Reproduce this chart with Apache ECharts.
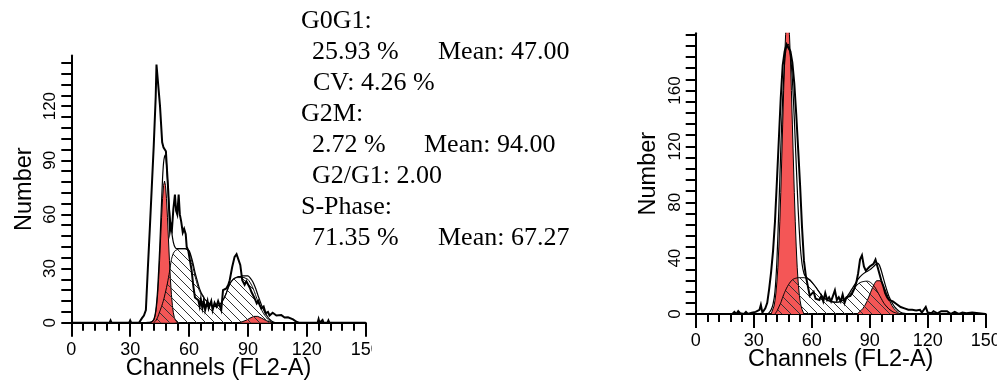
<!DOCTYPE html>
<html>
<head>
<meta charset="utf-8">
<script src="https://cdn.jsdelivr.net/npm/echarts@6/dist/echarts.min.js"></script>
<style>
  html, body { margin: 0; padding: 0; background: #fff; }
  #full { position: absolute; left: 0; top: 0; width: 997px; height: 382px; }
  #left { position: absolute; left: 0; top: 0; width: 372px; height: 382px; }
</style>
</head>
<body>
<div id="full"></div>
<div id="left"></div>
<script>
// ---------- axis ticks and labels ----------
const xLabels = [0, 30, 60, 90, 120, 150];
const leftYLabels = [0, 30, 60, 90, 120];
const leftYTicks = [0, 6, 12, 18, 24, 30, 36, 42, 48, 54, 60, 66, 72, 78, 84, 90, 96, 102, 108, 114, 120, 126, 132, 138, 144];
const rightYLabels = [0, 40, 80, 120, 160];
const rightYTicks = [0, 8, 16, 24, 32, 40, 48, 56, 64, 72, 80, 88, 96, 104, 112, 120, 128, 136, 144, 152, 160, 168, 176, 184, 192, 200];

// ---------- left sample: measured histogram [channel, count] ----------
const leftRaw = [[0,0],[19.5,0],[20,1.2],[20.5,0],[29.5,0],[30,1.2],[30.5,0],[34.5,0],[35,1],[36,2.5],[37,4],[38,7],[39,30],[40,52],[41,75],[42,98],[43,125],[43.4,143],[44.2,142],[45.2,120],[46.3,100],[47,97],[48.2,95],[49.4,73],[50.3,51],[50.8,54],[51.3,52],[52,63],[52.8,71],[53.4,62],[54,60],[54.7,71],[55.3,60],[56,56],[56.8,50],[57.5,52],[58.3,49],[58.8,42],[59.6,40],[60.3,40],[61.3,29],[62.2,20],[63,14],[64,13],[64.7,12.5],[65.4,9],[66,13],[66.8,8],[67.5,12],[68.2,7],[69.4,12],[70,8],[70.7,8],[71.3,12],[72,7],[73,11],[73.9,9],[74.8,12],[75.6,11.6],[76.4,7],[77.3,18],[78.2,17],[79,19],[80,21],[80.7,23.5],[82,31],[83.2,36.5],[84.2,38],[84.9,37],[86.1,32],[87.1,23.5],[88.3,21],[89.2,23],[89.9,23.5],[91.1,19],[91.8,17],[92.4,16],[93.2,14],[93.8,15],[94.5,10.7],[95.3,12],[95.9,10],[96.8,7.9],[98,9],[99,5.2],[100.2,6],[101,4],[101.9,4.2],[102.6,5.5],[103.6,6],[104.5,4],[105.3,4.5],[107,4.2],[108.7,2.9],[110.4,3],[113,1.8],[114.7,0.5],[116,0],[125.5,0],[126,2],[126.5,0],[127.5,0],[128,1.5],[128.5,0],[130.5,0],[131,1.2],[131.5,0],[137,0],[137.5,1],[138,0],[145,0],[145.5,1],[146,0],[148.5,0],[149,1],[149.5,0],[150,0]];

// left sample: model fit (sum of phases)
const leftFit = [[38,0],[40,0.3],[41,0.5],[42,1.6],[43,6.5],[44,18.7],[45,40.5],[46,67.4],[46.5,80],[47,88.5],[47.5,92],[48,93],[48.5,88],[49,79.5],[49.5,70],[50,62.5],[51,51.7],[52,44.5],[53,41.5],[54,41],[56,41],[58,41],[60,40],[61,37],[62,33],[63,28],[64,24],[65,20],[66,17],[67,15],[68,13],[69,12],[70,11],[71,10],[72,9.5],[73,9],[74,9],[75,9.5],[76,10.5],[77,12],[78,14],[79,16.5],[80,19.5],[81,22],[82,23.5],[83,24.5],[84,25],[85,25.5],[86,25.5],[87,26],[88,26],[89,26],[90,26],[91,25],[92,23.5],[93,21.5],[94,18.8],[95,15.5],[96,12.5],[97,9.5],[98,7],[99,5],[100,3.3],[101,1.9],[102,1],[103,0.4],[104,0]];

// left sample: G0G1 peak
const leftG1 = [[40.5,0],[41,0.3],[41.5,0.7],[42,1.5],[42.5,2.9],[43,5.5],[43.5,9.6],[44,15.7],[44.5,24],[45,34.5],[45.5,46.4],[46,58.4],[46.5,68.8],[47,76],[47.5,78.5],[48,76],[48.5,68.8],[49,58.4],[49.5,46.4],[50,34.5],[50.5,24],[51,15.7],[51.5,9.6],[52,5.5],[52.5,2.9],[53,1.5],[53.5,0.7],[54,0.3],[54.5,0]];

// left sample: S-phase
const leftS = [[42,0],[43,1],[44,3],[45,6],[46,9],[47,12.5],[48,17],[49,22],[50,28],[51,35],[52,38.5],[53,40],[54,40.5],[55,41],[56,41],[57,41],[58,41],[59,40.5],[60,39.5],[61,36],[62,31],[63,26],[64,22],[65,18.5],[66,16],[67,14.5],[68,13],[69,12],[70,11],[71,10],[72,9.5],[73,9],[74,9],[75,9.5],[76,10.5],[77,12],[78,14],[79,16.5],[80,19.5],[81,22],[82,23.5],[83,24.5],[84,25],[85,25],[86,25],[87,25],[88,25],[89,24.5],[90,24],[91,22.5],[92,20.5],[93,18],[94,15],[95,12],[96,9.5],[97,7],[98,5],[99,3.5],[100,2],[101,1],[102,0.3],[103,0]];

// left sample: G2M peak
const leftG2 = [[85,0],[86,0.2],[87,0.5],[88,0.8],[89,1.3],[90,1.9],[91,2.5],[92,3.1],[93,3.5],[94,3.6],[95,3.5],[96,3.1],[97,2.5],[98,1.9],[99,1.3],[100,0.8],[101,0.5],[102,0.2],[103,0]];

// ---------- right sample ----------
const rightRaw = [[0,0],[19,0],[20,1.5],[21,0],[22,2],[23,0.5],[24,1],[25,0],[26,1.5],[27,0],[28,0.5],[29,1],[30,0],[31,1.5],[32,0.5],[33,3],[33.7,6.5],[34.5,1],[35,2],[36,4],[37,8],[38,18],[39,30],[40,45],[41,66],[42,95],[43,125],[44,155],[45,178],[46,188],[47,193],[48,192],[49,188],[50,180],[51,165],[52,143],[53,118],[54,92],[55,62],[56,38],[57,27],[58,20],[59,13],[60,14],[61,16],[62,11],[63,12],[64,10],[65,13],[66,9],[67,15],[68,10],[69,12],[70,9],[71,13],[72,17],[73,10],[74,12],[75,9],[76,14],[77,8],[78,12],[79,11],[80,13],[81,15],[82,18],[83,22],[84,29],[85,39],[86,42],[87,34],[88,31],[89,32],[90,34],[91,33],[92,36],[93,39],[94,34],[95,29],[96,24],[97,20],[98,15],[99,12],[100,10],[101,9],[102,9],[103,8],[104,7],[105,6],[106,5],[107,4],[108,4],[109,3],[110,3],[112,3],[114,2.5],[116,3],[117,1],[118,1],[119,5],[120,1],[122,0.5],[123,2],[125,0.5],[127,2],[128,1],[130,2],[132,0],[134,1.5],[136,0],[138,1],[140,0.5],[143,1],[144,0],[150,0]];

const rightFit = [[37,0],[38,1],[39,3],[40,7],[41,16],[42,38],[43,75],[44,118],[45,155],[46,180],[47,192],[48,193],[49,185],[50,168],[51,140],[52,107],[53,75],[54,50],[55,36],[56,29],[57,26.5],[58,25.5],[59,24.5],[60,23],[62,19.5],[64,15.5],[66,12],[68,10],[70,9],[72,8.5],[74,8.6],[76,9.8],[78,12],[80,16],[82,20.5],[84,25],[86,28],[88,30],[90,31.6],[92,34],[94,36.5],[95,35],[96,31],[97,26],[98,21],[99,16.5],[100,12.5],[101,9.5],[102,7],[103,5],[104,3.5],[105,2.2],[106,1.3],[108,0.4],[110,0]];

const rightG1 = [[39,0],[39.5,1.9],[40,3.3],[40.5,5.7],[41,9.5],[41.5,15],[42,23],[42.5,33.5],[43,48],[43.5,66],[44,87],[44.5,111],[45,136],[45.5,160],[46,183],[46.5,200],[47,211],[47.5,215],[48,211],[48.5,200],[49,183],[49.5,160],[50,136],[50.5,111],[51,87],[51.5,66],[52,48],[52.5,33.5],[53,23],[53.5,15],[54,9.5],[54.5,5.7],[55,3.3],[55.5,1.9],[56,0]];

const rightS = [[41,0],[42,2],[43,5],[44,8],[45,12],[46,15.5],[47,18.5],[48,21],[49,23],[50,24.5],[51,25.3],[52,25.7],[53,26],[54,26],[55,26],[56,26],[57,25.7],[58,25],[59,24],[60,22.5],[61,21],[62,19.5],[63,17.5],[64,15.5],[65,13.5],[66,12],[67,11],[68,10],[69,9.3],[70,8.8],[71,8.5],[72,8.4],[73,8.4],[74,8.5],[75,9],[76,9.6],[77,10.3],[78,11],[79,12.5],[80,14.5],[81,16.5],[82,18.5],[83,20],[84,21.5],[85,22.5],[86,23],[87,23.3],[88,23.5],[89,23.5],[90,23],[91,22],[92,20.5],[93,18.5],[94,16],[95,13.5],[96,11],[97,8.5],[98,6.5],[99,5],[100,3.5],[101,2.5],[102,1.5],[103,1],[104,0.5],[105,0]];

const rightG2 = [[83.5,0],[84.5,1.4],[85.5,2.5],[86.5,4],[87.5,6.1],[88.5,8.8],[89.5,12.1],[90.5,15.6],[91.5,19],[92.5,21.9],[93.5,23.8],[94.5,24.5],[95.5,23.8],[96.5,21.9],[97.5,19],[98.5,15.6],[99.5,12.1],[100.5,8.8],[101.5,6.1],[102.5,4],[103.5,2.5],[104.5,1.4],[105.5,0]];

// ---------- statistics text ----------
const statsText = ['G0G1:', '25.93 %', 'Mean: 47.00', 'CV: 4.26 %', 'G2M:', '2.72 %', 'Mean: 94.00', 'G2/G1: 2.00', 'S-Phase:', '71.35 %', 'Mean: 67.27'];

// ---------- styling helpers ----------
const SANS = '"Liberation Sans", Arial, Helvetica, sans-serif';
const SERIF = '"Liberation Serif", "Times New Roman", Times, serif';
const RED = '#f45656';

// diagonal hatch tile for the S-phase area
function hatchPattern() {
  const T = 9;
  const c = document.createElement('canvas');
  c.width = T; c.height = T;
  const g = c.getContext('2d');
  g.strokeStyle = '#333';
  g.lineWidth = 1;
  [-T, 0, T].forEach(function (o) {
    g.beginPath();
    g.moveTo(o - 1, -1);
    g.lineTo(o + T + 1, T + 1);
    g.stroke();
  });
  return { image: c, repeat: 'repeat' };
}
const HATCH = hatchPattern();

function xAxisCfg() {
  return {
    type: 'value', min: 0, max: 150, interval: 30,
    axisLine: { show: true, onZero: false, lineStyle: { color: '#000', width: 2 } },
    axisTick: { show: true, inside: false, length: 14, customValues: xLabels, lineStyle: { color: '#000', width: 2 } },
    minorTick: { show: true, splitNumber: 5, length: 8, lineStyle: { color: '#000', width: 2 } },
    axisLabel: { show: true, customValues: xLabels, margin: 18, fontSize: 18, color: '#000', fontFamily: SANS },
    splitLine: { show: false }, minorSplitLine: { show: false },
    name: 'Channels (FL2-A)', nameLocation: 'middle', nameGap: 34, nameMoveOverlap: false,
    nameTextStyle: { fontSize: 23.5, color: '#000', fontFamily: SANS }
  };
}

function yAxisCfg(max, ticks, labels) {
  return {
    type: 'value', min: 0, max: max,
    axisLine: { show: true, onZero: false, lineStyle: { color: '#000', width: 2 } },
    axisTick: { show: true, inside: false, length: 10, customValues: ticks, lineStyle: { color: '#000', width: 2 } },
    axisLabel: { show: true, customValues: labels, rotate: 90, margin: 12, fontSize: 17, color: '#000', fontFamily: SANS },
    splitLine: { show: false },
    name: 'Number', nameLocation: 'middle', nameGap: 35, nameMoveOverlap: false,
    nameTextStyle: { fontSize: 23.5, color: '#000', fontFamily: SANS }
  };
}

function seriesSet(raw, fit, g1, s, g2) {
  const base = { type: 'line', symbol: 'none', showSymbol: false, animation: false, silent: true };
  return [
    Object.assign({}, base, { name: 'G0G1', data: g1, z: 2,
      lineStyle: { color: '#000', width: 1 }, areaStyle: { color: RED, opacity: 1 } }),
    Object.assign({}, base, { name: 'G2M', data: g2, z: 2,
      lineStyle: { color: '#000', width: 1 }, areaStyle: { color: RED, opacity: 1 } }),
    Object.assign({}, base, { name: 'S-Phase', data: s, z: 3, smooth: 0.2,
      lineStyle: { color: '#000', width: 1 }, areaStyle: { color: HATCH, opacity: 1 } }),
    Object.assign({}, base, { name: 'Fit', data: fit, z: 4, smooth: 0.2,
      lineStyle: { color: '#000', width: 1.2 } }),
    Object.assign({}, base, { name: 'Data', data: raw, z: 5,
      lineStyle: { color: '#000', width: 2, join: 'miter' } })
  ];
}

// ---------- right histogram + statistics ----------
const full = echarts.init(document.getElementById('full'), null, { renderer: 'canvas' });
const statsPos = [
  [301, 21], [312, 52], [438, 52], [313, 83],
  [301, 114], [312, 145], [424, 145], [312, 176],
  [301, 207], [312, 238], [438, 238]
];
full.setOption({
  animation: false,
  grid: { left: 695.7, top: 33.3, width: 290, height: 280.7, containLabel: false, outerBoundsMode: 'none' },
  xAxis: xAxisCfg(),
  yAxis: yAxisCfg(201, rightYTicks, rightYLabels),
  series: seriesSet(rightRaw, rightFit, rightG1, rightS, rightG2),
  graphic: statsText.map(function (t, i) {
    return {
      type: 'text', x: statsPos[i][0], y: statsPos[i][1],
      style: { text: t, font: '26px ' + SERIF, fill: '#000', verticalAlign: 'middle', align: 'left' }
    };
  })
});

// ---------- left histogram ----------
const left = echarts.init(document.getElementById('left'), null, { renderer: 'canvas' });
left.setOption({
  animation: false,
  grid: { left: 71.3, top: 55.6, width: 294.4, height: 267.1, containLabel: false, outerBoundsMode: 'none' },
  xAxis: xAxisCfg(),
  yAxis: yAxisCfg(148, leftYTicks, leftYLabels),
  series: seriesSet(leftRaw, leftFit, leftG1, leftS, leftG2)
});
</script>
</body>
</html>
